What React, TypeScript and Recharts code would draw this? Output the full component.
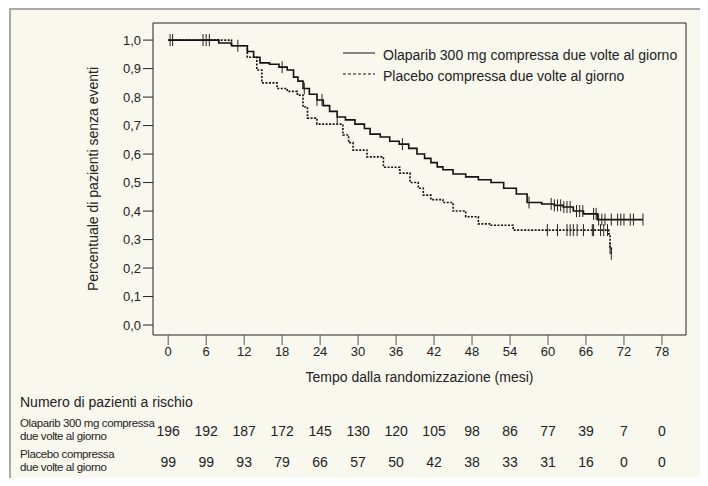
import { LineChart, Line, XAxis, YAxis, Scatter, ReferenceLine } from 'recharts'

// Kaplan-Meier step points (month, survival)
const olaT = [0, 8, 10, 12.5, 13.5, 14.5, 16, 17.5, 18.8, 19.8, 20.5, 21.3, 22.3, 23.5, 24.5, 25.5, 26.7, 28, 29.5, 31, 31.9, 33.5, 35, 36.5, 38, 39.3, 40.5, 41.5, 42.5, 43.4, 45, 47, 49, 51, 53, 55, 56.7, 59, 61, 62.4, 64, 65.6, 67.8, 75]
const olaS = [1.0, 0.99, 0.98, 0.96, 0.94, 0.92, 0.915, 0.905, 0.895, 0.87, 0.856, 0.83, 0.81, 0.79, 0.77, 0.75, 0.73, 0.72, 0.705, 0.69, 0.67, 0.66, 0.645, 0.635, 0.62, 0.6, 0.585, 0.57, 0.555, 0.545, 0.53, 0.52, 0.51, 0.5, 0.48, 0.46, 0.43, 0.425, 0.42, 0.414, 0.4, 0.39, 0.37, 0.37]
const plaT = [0, 10, 12.5, 14, 14.8, 17.2, 18.8, 20.4, 21.3, 22, 23.5, 27.6, 28.5, 29.2, 31.4, 34, 36.6, 38.2, 39.5, 40.3, 41.5, 43.4, 45, 47, 49, 51, 54.5, 69.6, 69.8, 70]
const plaS = [1.0, 0.98, 0.94, 0.895, 0.85, 0.83, 0.82, 0.807, 0.765, 0.726, 0.705, 0.667, 0.64, 0.614, 0.59, 0.554, 0.533, 0.5, 0.48, 0.456, 0.44, 0.43, 0.4, 0.38, 0.355, 0.35, 0.333, 0.32, 0.27, 0.25]

// censored observations
const olaCensT = [0.3, 0.7, 5.5, 6, 6.5, 11, 18, 21.5, 23.5, 24.3, 26.7, 37, 57, 60.5, 61, 61.5, 62, 62.5, 63, 63.5, 64.5, 65, 65.5, 67.2, 67.6, 68, 68.5, 69, 70, 71, 71.5, 72, 73, 73.5, 75]
const plaCensT = [59.9, 61.5, 63, 63.5, 64, 64.6, 65.6, 67, 67.2, 68.3, 68.8, 69.4, 69.8, 70]

const xTicks = [0, 6, 12, 18, 24, 30, 36, 42, 48, 54, 60, 66, 72, 78]
const yTicks = [0, 0.1, 0.2, 0.3, 0.4, 0.5, 0.6, 0.7, 0.8, 0.9, 1.0]
const olaRisk = [196, 192, 187, 172, 145, 130, 120, 105, 98, 86, 77, 39, 7, 0]
const plaRisk = [99, 99, 93, 79, 66, 57, 50, 42, 38, 33, 31, 16, 0, 0]

const olaName = 'Olaparib 300 mg compressa due volte al giorno'
const plaName = 'Placebo compressa due volte al giorno'

const FONT = '"Liberation Sans Narrow", "Liberation Sans", Roboto, sans-serif'
const X_MIN = -2.4
const X_MAX = 81.8
const Y_MIN = -0.035
const Y_MAX = 1.06
const PLOT_L = 153
const PLOT_R = 686

function stepAt(ts: number[], ss: number[], t: number) {
  let s = ss[0]
  for (let i = 0; i < ts.length; i++) if (ts[i] <= t) s = ss[i]
  return s
}

const curveData = Array.from(new Set([...olaT, ...plaT])).sort((a, b) => a - b).map((t) => ({
  t,
  ola: t <= olaT[olaT.length - 1] ? stepAt(olaT, olaS, t) : null,
  pla: t <= plaT[plaT.length - 1] ? stepAt(plaT, plaS, t) : null,
}))
const olaCens = olaCensT.map((t) => ({ t, v: stepAt(olaT, olaS, t) }))
const plaCens = plaCensT.map((t) => ({ t, v: stepAt(plaT, plaS, t) }))

const CensorMark = (props: any) => {
  const { cx, cy } = props
  if (cx == null || cy == null) return null
  return <line x1={cx} x2={cx} y1={cy - 6} y2={cy + 6} stroke="#222" strokeWidth={1} />
}

const xPix = (t: number) => PLOT_L + ((t - X_MIN) / (X_MAX - X_MIN)) * (PLOT_R - PLOT_L)

export default function App() {
  const tickStyle = { fontFamily: FONT, fontSize: 13, fill: '#222' }
  return (
    <div style={{ position: 'relative', width: 708, height: 486, margin: -8, background: '#fff', fontFamily: FONT, color: '#222' }}>
      <div style={{ position: 'absolute', left: 9, top: 8, width: 720, height: 500, background: '#f9f8ee', border: '2px solid #aaa' }} />
      <div style={{ position: 'absolute', left: 0, top: 0 }}>
        <LineChart width={708} height={486} data={curveData} margin={{ top: 23, right: 22, left: 93, bottom: 96 }}>
          <XAxis
            type="number"
            dataKey="t"
            domain={[X_MIN, X_MAX]}
            ticks={xTicks}
            allowDataOverflow
            tick={tickStyle}
            tickSize={10}
            tickLine={{ stroke: '#555' }}
            axisLine={{ stroke: '#222' }}
            height={55}
            label={{ value: 'Tempo dalla randomizzazione (mesi)', position: 'insideBottom', offset: 8, style: { ...tickStyle, fontSize: 14 } }}
          />
          <YAxis
            type="number"
            domain={[Y_MIN, Y_MAX]}
            ticks={yTicks}
            allowDataOverflow
            width={60}
            tick={tickStyle}
            tickSize={10}
            tickLine={{ stroke: '#222' }}
            axisLine={{ stroke: '#222' }}
            tickFormatter={(v: number) => v.toFixed(1).replace('.', ',')}
            label={{ value: 'Percentuale di pazienti senza eventi', angle: -90, position: 'insideLeft', offset: 0, style: { ...tickStyle, fontSize: 14, textAnchor: 'middle' } }}
          />
          <ReferenceLine y={Y_MAX} stroke="#222" />
          <ReferenceLine x={X_MAX} stroke="#222" />
          <Line dataKey="ola" type="stepAfter" stroke="#111" strokeWidth={1.6} dot={false} isAnimationActive={false} connectNulls={false} />
          <Line dataKey="pla" type="stepAfter" stroke="#111" strokeWidth={1.6} strokeDasharray="2 1.5" dot={false} isAnimationActive={false} connectNulls={false} />
          <Scatter data={olaCens} dataKey="v" shape={CensorMark} isAnimationActive={false} />
          <Scatter data={plaCens} dataKey="v" shape={CensorMark} isAnimationActive={false} />
        </LineChart>
      </div>
      {/* legend */}
      <svg style={{ position: 'absolute', left: 340, top: 45 }} width={40} height={40}>
        <line x1={3} x2={35} y1={8} y2={8} stroke="#111" strokeWidth={1} />
        <line x1={3} x2={35} y1={29} y2={29} stroke="#111" strokeWidth={1} strokeDasharray="3 2" />
      </svg>
      <div style={{ position: 'absolute', left: 383, top: 45, fontSize: 14, lineHeight: '21px' }}>
        <div>{olaName}</div>
        <div>{plaName}</div>
      </div>
      {/* risk table */}
      <div style={{ position: 'absolute', left: 20, top: 394, fontSize: 14 }}>Numero di pazienti a rischio</div>
      <div style={{ position: 'absolute', left: 20, top: 417, fontSize: 11.5, lineHeight: '13px', letterSpacing: -0.4 }}>Olaparib 300 mg compressa<br />due volte al giorno</div>
      <div style={{ position: 'absolute', left: 20, top: 448, fontSize: 11.5, lineHeight: '13px', letterSpacing: -0.4 }}>Placebo compressa<br />due volte al giorno</div>
      {xTicks.map((t, i) => (
        <div key={'o' + t} style={{ position: 'absolute', left: xPix(t) - 20, width: 40, textAlign: 'center', top: 423, fontSize: 14 }}>{olaRisk[i]}</div>
      ))}
      {xTicks.map((t, i) => (
        <div key={'p' + t} style={{ position: 'absolute', left: xPix(t) - 20, width: 40, textAlign: 'center', top: 454, fontSize: 14 }}>{plaRisk[i]}</div>
      ))}
    </div>
  )
}
